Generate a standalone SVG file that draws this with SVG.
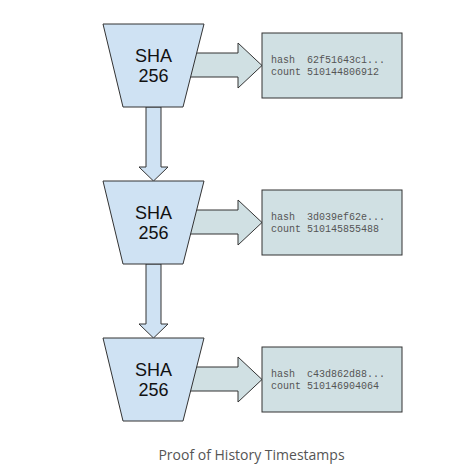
<svg xmlns="http://www.w3.org/2000/svg" width="473" height="473" viewBox="0 0 473 473">
<style>
.trap{fill:#cfe2f3;stroke:#333;stroke-width:1}
.box{fill:#d0e0e3;stroke:#333;stroke-width:1}
.rarr{fill:#d0e0e3;stroke:#333;stroke-width:1}
.darr{fill:#cfe2f3;stroke:#333;stroke-width:1}
.sha{font-family:"Liberation Sans",Arial,sans-serif;font-size:18px;fill:#111;text-anchor:middle}
.mono{font-family:"Liberation Mono","Courier New",monospace;font-size:10px;fill:#555;white-space:pre}
.cap{font-family:"Open Sans","Noto Sans",sans-serif;font-size:14px;fill:#555;text-anchor:middle}
</style>
<rect width="473" height="473" fill="#fff"/>
<g id="connectors">
<polygon class="rarr" points="185,53 238,53 238,43 262,65.5 238,88 238,77 185,77"/>
<polygon class="rarr" points="185,210 238,210 238,200 262,222.5 238,245 238,234 185,234"/>
<polygon class="rarr" points="185,367 238,367 238,357 262,379.5 238,402 238,391 185,391"/>
<polygon class="darr" points="146,107 161,107 161,167 168,167 153.5,181 139,167 146,167"/>
<polygon class="darr" points="146,264 161,264 161,324 168,324 153.5,338 139,324 146,324"/>
</g>
<g id="sha1">
<polygon class="trap" points="103,24 204,24 183,107 123,107"/>
<text class="sha" x="153.5" y="62">SHA</text>
<text class="sha" x="153.5" y="82">256</text>
</g>
<g id="sha2">
<polygon class="trap" points="103,181 204,181 183,264 123,264"/>
<text class="sha" x="153.5" y="219">SHA</text>
<text class="sha" x="153.5" y="239">256</text>
</g>
<g id="sha3">
<polygon class="trap" points="103,338 204,338 183,421 123,421"/>
<text class="sha" x="153.5" y="376">SHA</text>
<text class="sha" x="153.5" y="396">256</text>
</g>
<g id="out1">
<rect class="box" x="262" y="33" width="140" height="65"/>
<text class="mono" x="271" y="63" xml:space="preserve">hash  62f51643c1...</text>
<text class="mono" x="271" y="75">count 510144806912</text>
</g>
<g id="out2">
<rect class="box" x="262" y="190" width="140" height="65"/>
<text class="mono" x="271" y="220" xml:space="preserve">hash  3d039ef62e...</text>
<text class="mono" x="271" y="232">count 510145855488</text>
</g>
<g id="out3">
<rect class="box" x="262" y="347" width="140" height="65"/>
<text class="mono" x="271" y="377" xml:space="preserve">hash  c43d862d88...</text>
<text class="mono" x="271" y="389">count 510146904064</text>
</g>
<text class="cap" x="251.5" y="460">Proof of History Timestamps</text>
</svg>
